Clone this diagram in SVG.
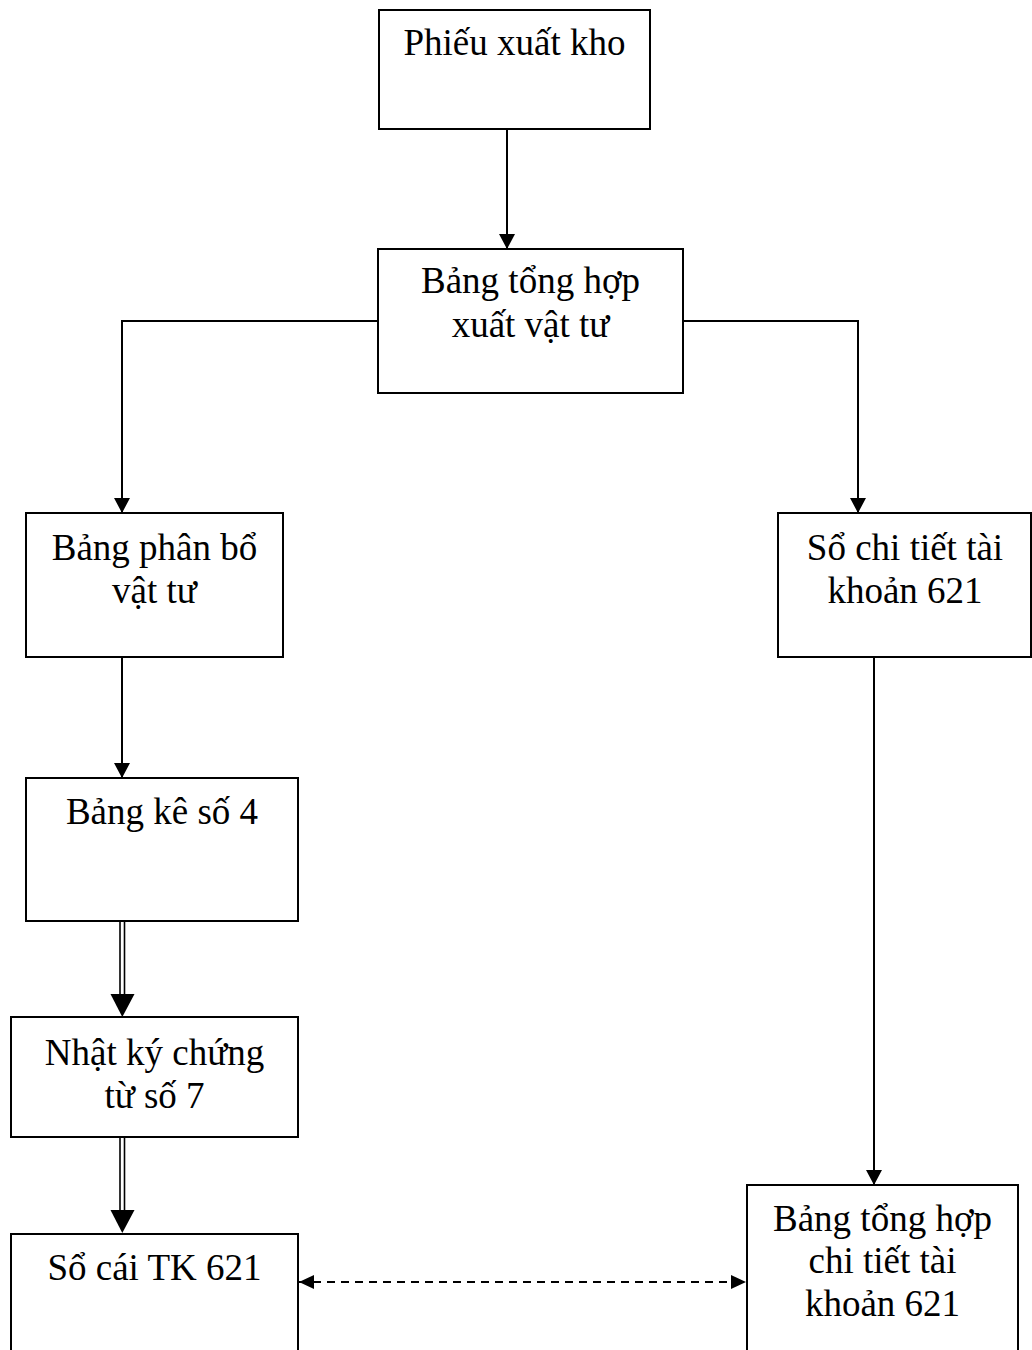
<svg xmlns="http://www.w3.org/2000/svg" width="1032" height="1350" viewBox="0 0 1032 1350">
  <style>
    .box { fill: #ffffff; stroke: #000000; stroke-width: 2; }
    .lbl { font-family: "Liberation Serif", "Times New Roman", serif; font-size: 37px; fill: #000000; text-anchor: middle; }
    .wire { fill: none; stroke: #000000; stroke-width: 2; }
    .dash { fill: none; stroke: #000000; stroke-width: 2; stroke-dasharray: 8 6; }
    .dbl { fill: none; stroke: #000000; stroke-width: 1.6; }
  </style>
  <defs>
    <marker id="arrow" viewBox="0 0 15 16" refX="15" refY="8" markerWidth="15" markerHeight="16" markerUnits="userSpaceOnUse" orient="auto">
      <path d="M0,0 L15,8 L0,16 Z" fill="#000000"/>
    </marker>
    <marker id="arrowStart" viewBox="0 0 15 14" refX="0" refY="7" markerWidth="15" markerHeight="14" markerUnits="userSpaceOnUse" orient="auto">
      <path d="M15,0 L0,7 L15,14 Z" fill="#000000"/>
    </marker>
    <marker id="arrowEnd" viewBox="0 0 15 14" refX="15" refY="7" markerWidth="15" markerHeight="14" markerUnits="userSpaceOnUse" orient="auto">
      <path d="M0,0 L15,7 L0,14 Z" fill="#000000"/>
    </marker>
  </defs>

  <!-- connectors -->
  <g id="connectors">
    <!-- Phiếu xuất kho -> Bảng tổng hợp xuất vật tư -->
    <line class="wire" x1="507" y1="129" x2="507" y2="249" marker-end="url(#arrow)"/>
    <!-- Bảng tổng hợp xuất vật tư -> Bảng phân bổ vật tư -->
    <polyline class="wire" points="378,321 122,321 122,513" marker-end="url(#arrow)"/>
    <!-- Bảng tổng hợp xuất vật tư -> Sổ chi tiết tài khoản 621 -->
    <polyline class="wire" points="683,321 858,321 858,513" marker-end="url(#arrow)"/>
    <!-- Bảng phân bổ vật tư -> Bảng kê số 4 -->
    <line class="wire" x1="122" y1="657" x2="122" y2="778" marker-end="url(#arrow)"/>
    <!-- Sổ chi tiết tài khoản 621 -> Bảng tổng hợp chi tiết tài khoản 621 -->
    <line class="wire" x1="874" y1="657" x2="874" y2="1185" marker-end="url(#arrow)"/>
    <!-- Bảng kê số 4 => Nhật ký chứng từ số 7 (double line) -->
    <line class="dbl" x1="120" y1="921" x2="120" y2="996"/>
    <line class="dbl" x1="124.5" y1="921" x2="124.5" y2="996"/>
    <path d="M110.5,994 L134.5,994 L122.3,1017 Z" fill="#000000"/>
    <!-- Nhật ký chứng từ số 7 => Sổ cái TK 621 (double line) -->
    <line class="dbl" x1="120" y1="1137" x2="120" y2="1212"/>
    <line class="dbl" x1="124.5" y1="1137" x2="124.5" y2="1212"/>
    <path d="M110.5,1210 L134.5,1210 L122.3,1233 Z" fill="#000000"/>
    <!-- Sổ cái TK 621 <-> Bảng tổng hợp chi tiết tài khoản 621 -->
    <line class="dash" x1="299" y1="1282" x2="746" y2="1282" marker-start="url(#arrowStart)" marker-end="url(#arrowEnd)"/>
  </g>

  <g id="phieu-xuat-kho">
    <rect class="box" x="379" y="10" width="271" height="119"/>
    <text class="lbl" x="514.5" y="55">Phiếu xuất kho</text>
  </g>

  <g id="bang-tong-hop-xuat-vat-tu">
    <rect class="box" x="378" y="249" width="305" height="144"/>
    <text class="lbl" x="530.5" y="293">Bảng tổng hợp</text>
    <text class="lbl" x="530.5" y="337">xuất vật tư</text>
  </g>

  <g id="bang-phan-bo-vat-tu">
    <rect class="box" x="26" y="513" width="257" height="144"/>
    <text class="lbl" x="154.5" y="560">Bảng phân bổ</text>
    <text class="lbl" x="154.5" y="603">vật tư</text>
  </g>

  <g id="so-chi-tiet-tk-621">
    <rect class="box" x="778" y="513" width="253" height="144"/>
    <text class="lbl" x="905" y="560">Sổ chi tiết tài</text>
    <text class="lbl" x="905" y="603">khoản 621</text>
  </g>

  <g id="bang-ke-so-4">
    <rect class="box" x="26" y="778" width="272" height="143"/>
    <text class="lbl" x="162" y="824">Bảng kê số 4</text>
  </g>

  <g id="nhat-ky-chung-tu-so-7">
    <rect class="box" x="11" y="1017" width="287" height="120"/>
    <text class="lbl" x="154.5" y="1065">Nhật ký chứng</text>
    <text class="lbl" x="154.5" y="1108">từ số 7</text>
  </g>

  <g id="so-cai-tk-621">
    <rect class="box" x="11" y="1234" width="287" height="130"/>
    <text class="lbl" x="154.5" y="1280">Sổ cái TK 621</text>
  </g>

  <g id="bang-tong-hop-chi-tiet-tk-621">
    <rect class="box" x="747" y="1185" width="271" height="180"/>
    <text class="lbl" x="882.5" y="1231">Bảng tổng hợp</text>
    <text class="lbl" x="882.5" y="1273">chi tiết tài</text>
    <text class="lbl" x="882.5" y="1316">khoản 621</text>
  </g>
</svg>
